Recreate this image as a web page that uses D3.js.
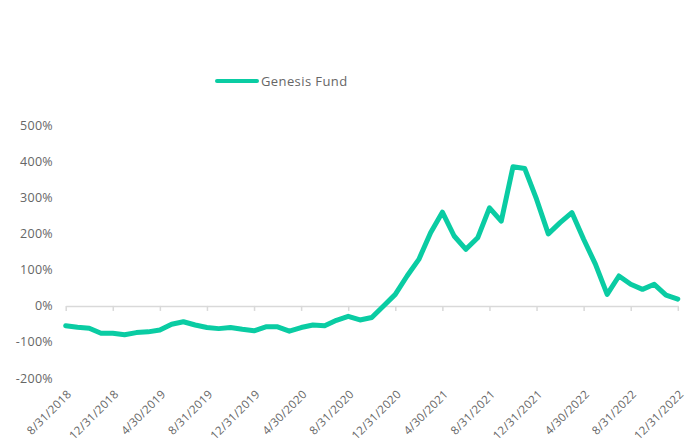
<!DOCTYPE html>
<html>
<head>
<meta charset="utf-8">
<script src="https://cdn.jsdelivr.net/npm/d3@7"></script>
<style>
  body { margin: 0; background: #fff; }
  text { font-family: "Open Sans", "Noto Sans", sans-serif; }
</style>
</head>
<body>
<div id="chart"></div>
<script>
// Month-end dates, 8/31/2018 .. 12/31/2022
var months = [
  "8/31/2018", "9/30/2018", "10/31/2018", "11/30/2018", "12/31/2018",
  "1/31/2019", "2/28/2019", "3/31/2019", "4/30/2019", "5/31/2019", "6/30/2019", "7/31/2019",
  "8/31/2019", "9/30/2019", "10/31/2019", "11/30/2019", "12/31/2019",
  "1/31/2020", "2/29/2020", "3/31/2020", "4/30/2020", "5/31/2020", "6/30/2020", "7/31/2020",
  "8/31/2020", "9/30/2020", "10/31/2020", "11/30/2020", "12/31/2020",
  "1/31/2021", "2/28/2021", "3/31/2021", "4/30/2021", "5/31/2021", "6/30/2021", "7/31/2021",
  "8/31/2021", "9/30/2021", "10/31/2021", "11/30/2021", "12/31/2021",
  "1/31/2022", "2/28/2022", "3/31/2022", "4/30/2022", "5/31/2022", "6/30/2022", "7/31/2022",
  "8/31/2022", "9/30/2022", "10/31/2022", "11/30/2022", "12/31/2022"
];

// Genesis Fund cumulative return, %
var genesisFund = [
  -55, -59, -62, -76, -76,
  -80, -74, -72, -67, -51, -44, -53,
  -60, -63, -60, -65, -69,
  -58, -58, -70, -60, -53, -55, -40,
  -29, -39, -32, 0, 32,
  83, 129, 203, 260, 194, 157, 189,
  272, 235, 386, 381, 296,
  200, 231, 259, 185, 116, 32, 83,
  60, 46, 60, 30, 19
];

var tickLabels = [
  "8/31/2018", "12/31/2018", "4/30/2019", "8/31/2019", "12/31/2019",
  "4/30/2020", "8/31/2020", "12/31/2020", "4/30/2021", "8/31/2021",
  "12/31/2021", "4/30/2022", "8/31/2022", "12/31/2022"
];
var yTicks = [-200, -100, 0, 100, 200, 300, 400, 500];

function init() {
  var w = 689, h = 445;
  var plotLeft = 65.7, plotRight = 677.8, plotTop = 125.7, plotBottom = 378;
  var lineColor = "#0acca3";
  var textColor = "#666666";

  var svg = d3.select("#chart").append("svg")
    .attr("width", w)
    .attr("height", h);

  var x = d3.scalePoint()
    .domain(months)
    .range([plotLeft, plotRight]);

  var y = d3.scaleLinear()
    .domain([-200, 500])
    .range([plotBottom, plotTop]);

  // y axis labels
  var yAxis = d3.axisLeft(y)
    .tickValues(yTicks)
    .tickSize(0)
    .tickPadding(0)
    .tickFormat(function(d) { return d + "%"; });

  var gy = svg.append("g")
    .attr("transform", "translate(53,0)")
    .call(yAxis);
  gy.select(".domain").remove();
  gy.selectAll("text")
    .attr("fill", textColor)
    .style("font-size", "12.5px")
    .style("letter-spacing", "0.3px");

  // zero line with tick marks
  var zeroAxis = d3.axisBottom(x)
    .tickValues(tickLabels)
    .tickSize(5)
    .tickSizeOuter(0)
    .tickFormat("");

  var gz = svg.append("g")
    .attr("transform", "translate(0," + y(0) + ")")
    .call(zeroAxis);
  gz.select(".domain").attr("stroke", "#d9d9d9").attr("stroke-width", 1.5);
  gz.selectAll(".tick line").attr("stroke", "#d9d9d9").attr("stroke-width", 1.5);

  // date labels along the bottom
  var xAxis = d3.axisBottom(x)
    .tickValues(tickLabels)
    .tickSize(0);

  var gx = svg.append("g")
    .attr("transform", "translate(0," + plotBottom + ")")
    .call(xAxis);
  gx.select(".domain").remove();
  gx.selectAll("text")
    .attr("fill", textColor)
    .style("font-size", "11.5px")
    .style("letter-spacing", "0.3px")
    .style("text-anchor", "end")
    .attr("y", 0)
    .attr("dy", 0)
    .attr("transform", "translate(6,17) rotate(-45)");

  // series line
  var line = d3.line()
    .x(function(d, i) { return x(months[i]); })
    .y(function(d) { return y(d); });

  svg.append("path")
    .datum(genesisFund)
    .attr("fill", "none")
    .attr("stroke", lineColor)
    .attr("stroke-width", 5)
    .attr("stroke-linejoin", "round")
    .attr("stroke-linecap", "round")
    .attr("d", line);

  // legend
  var legend = svg.append("g")
    .attr("transform", "translate(217,81)");

  legend.append("line")
    .attr("x1", 0)
    .attr("x2", 40)
    .attr("stroke", lineColor)
    .attr("stroke-width", 4)
    .attr("stroke-linecap", "round");

  legend.append("text")
    .attr("x", 44)
    .attr("dy", "0.35em")
    .attr("fill", textColor)
    .style("font-size", "13px")
    .style("letter-spacing", "0.4px")
    .text("Genesis Fund");
}

window.onload = init;
</script>
</body>
</html>
